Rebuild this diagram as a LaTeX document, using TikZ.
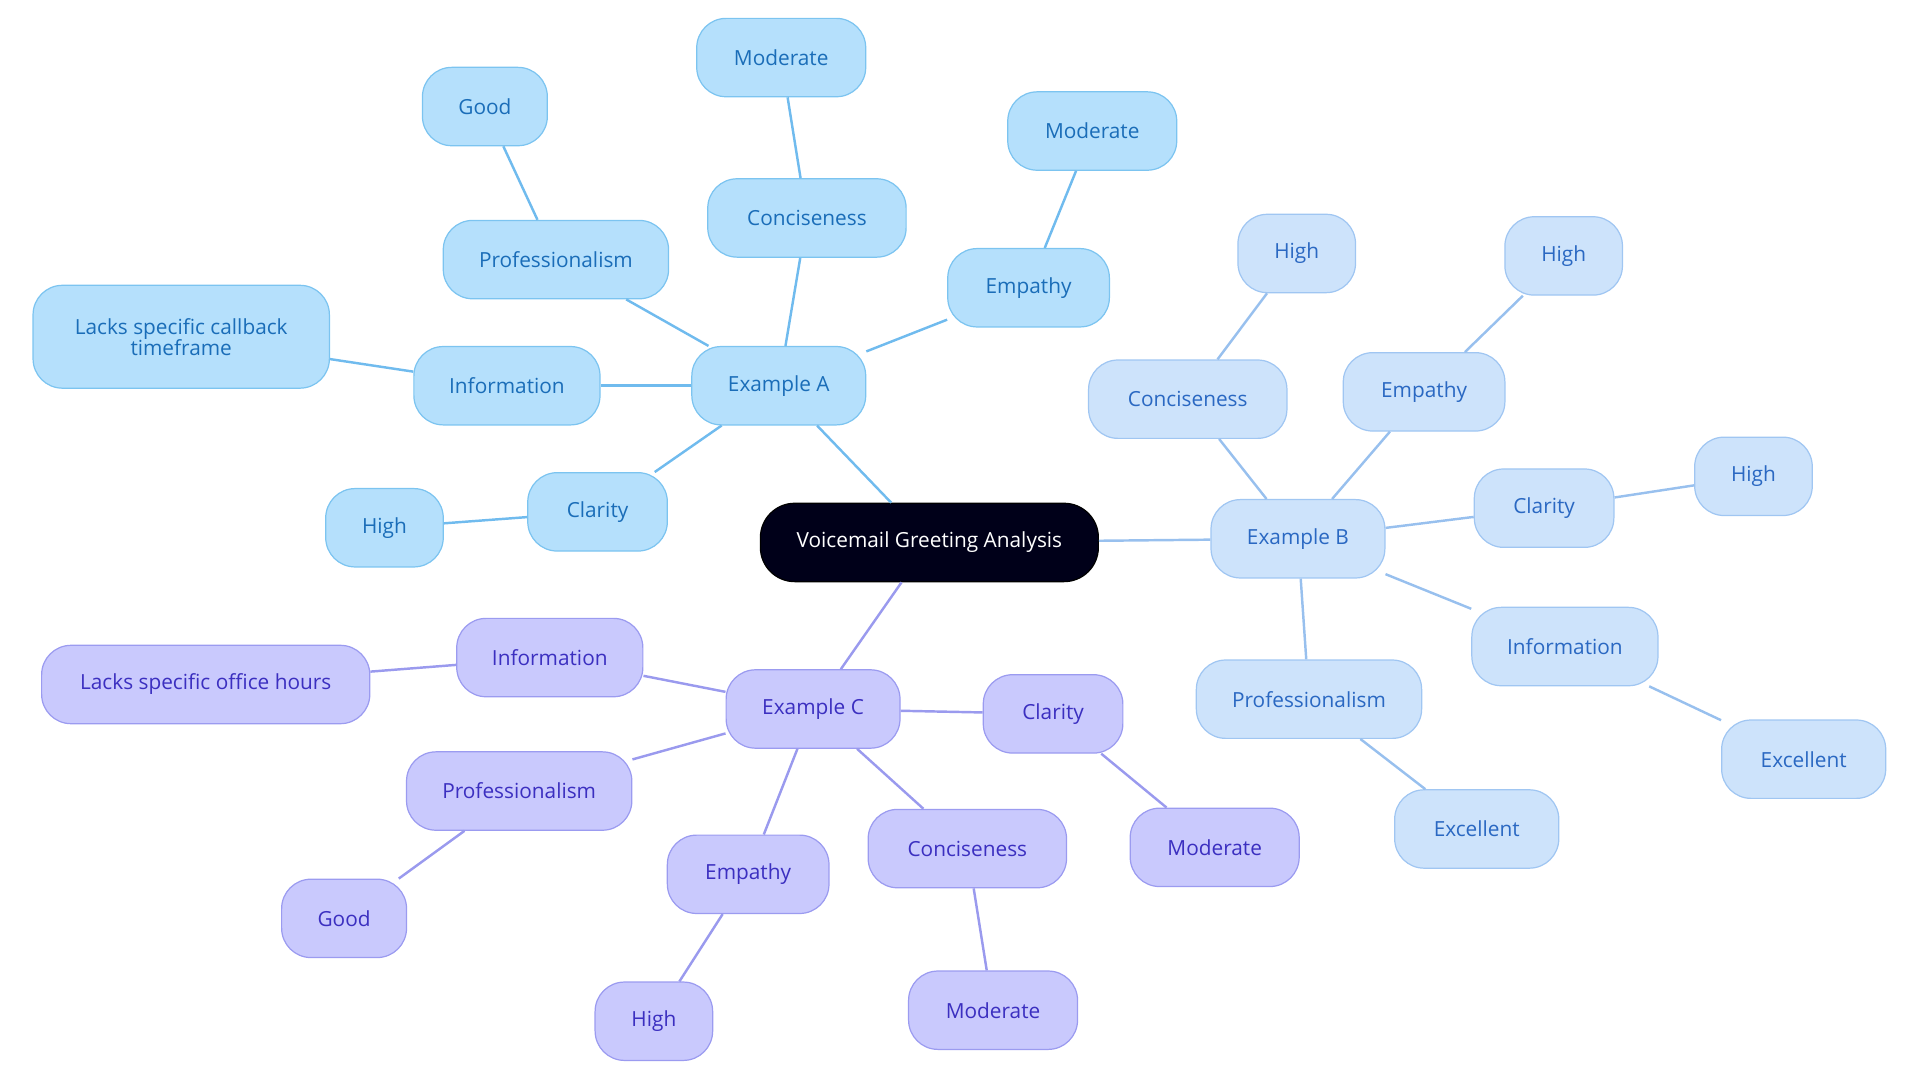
\documentclass[tikz,border=0pt]{standalone}
\usepackage{fontspec}
\setmainfont{Open Sans}
\begin{document}
\definecolor{af}{HTML}{B5E0FC}\definecolor{as}{HTML}{7CC4F0}\definecolor{at}{HTML}{1A6DB8}\definecolor{ae}{HTML}{70BBEE}
\definecolor{bf}{HTML}{CDE3FB}\definecolor{bs}{HTML}{A0C6F2}\definecolor{bt}{HTML}{2A68C2}\definecolor{be}{HTML}{98C0EE}
\definecolor{cf}{HTML}{C9C9FD}\definecolor{cs}{HTML}{9B9BF0}\definecolor{ct}{HTML}{3B2FC0}\definecolor{ce}{HTML}{9A9AEE}
\begin{tikzpicture}[x=1pt,y=-1pt,
 n/.style={draw,rounded corners=24pt,minimum height=64pt,inner sep=0pt,align=center,font=\fontsize{17}{19}\selectfont,line width=1pt},
 A/.style={n,fill=af,draw=as,text=at},
 B/.style={n,fill=bf,draw=bs,text=bt},
 C/.style={n,fill=cf,draw=cs,text=ct},
 ea/.style={draw=ae,line width=2pt},eb/.style={draw=be,line width=2pt},ec/.style={draw=ce,line width=2pt}]
\useasboundingbox (0,0) rectangle (1568,884);
\node[n,fill=black!90!blue,draw=black,text=white,minimum width=276pt,rounded corners=28pt] (r) at (759,443) {Voicemail Greeting Analysis};
\node[A,minimum width=142pt] (a) at (636,315) {Example A};
\node[A,minimum width=184pt] (a1) at (454,212) {Professionalism};
\node[A,minimum width=102pt] (a1g) at (396,87) {Good};
\node[A,minimum width=162pt] (a2) at (659,178) {Conciseness};
\node[A,minimum width=138pt] (a2m) at (638,47) {Moderate};
\node[A,minimum width=132pt] (a3) at (840,235) {Empathy};
\node[A,minimum width=138pt] (a3m) at (892,107) {Moderate};
\node[A,minimum width=152pt] (a4) at (414,315) {Information};
\node[A,minimum width=242pt,minimum height=84pt] (a4l) at (148,275) {Lacks specific callback\\[-2pt]timeframe};
\node[A,minimum width=114pt] (a5) at (488,418) {Clarity};
\node[A,minimum width=96pt] (a5h) at (314,431) {High};
\node[B,minimum width=142pt] (b) at (1060,440) {Example B};
\node[B,minimum width=162pt] (b1) at (970,326) {Conciseness};
\node[B,minimum width=96pt] (b1h) at (1059,207) {High};
\node[B,minimum width=132pt] (b2) at (1163,320) {Empathy};
\node[B,minimum width=96pt] (b2h) at (1277,209) {High};
\node[B,minimum width=114pt] (b3) at (1261,415) {Clarity};
\node[B,minimum width=96pt] (b3h) at (1432,389) {High};
\node[B,minimum width=152pt] (b4) at (1278,528) {Information};
\node[B,minimum width=134pt] (b4e) at (1473,620) {Excellent};
\node[B,minimum width=184pt] (b5) at (1069,571) {Professionalism};
\node[B,minimum width=134pt] (b5e) at (1206,677) {Excellent};
\node[C,minimum width=142pt] (c) at (664,579) {Example C};
\node[C,minimum width=152pt] (c1) at (449,537) {Information};
\node[C,minimum width=268pt] (c1l) at (168,559) {Lacks specific office hours};
\node[C,minimum width=184pt] (c2) at (424,646) {Professionalism};
\node[C,minimum width=102pt] (c2g) at (281,750) {Good};
\node[C,minimum width=132pt] (c3) at (611,714) {Empathy};
\node[C,minimum width=96pt] (c3h) at (534,834) {High};
\node[C,minimum width=162pt] (c4) at (790,693) {Conciseness};
\node[C,minimum width=138pt] (c4m) at (811,825) {Moderate};
\node[C,minimum width=114pt] (c5) at (860,583) {Clarity};
\node[C,minimum width=138pt] (c5m) at (992,692) {Moderate};
\begin{scope}[on background layer/.try]
\end{scope}
\begin{pgfinterruptboundingbox}\end{pgfinterruptboundingbox}
\foreach \u/\v in {r/a,a/a1,a1/a1g,a/a2,a2/a2m,a/a3,a3/a3m,a/a4,a4/a4l,a/a5,a5/a5h}{\path[ea] (\u) -- (\v);}
\foreach \u/\v in {r/b,b/b1,b1/b1h,b/b2,b2/b2h,b/b3,b3/b3h,b/b4,b4/b4e,b/b5,b5/b5e}{\path[eb] (\u) -- (\v);}
\foreach \u/\v in {r/c,c/c1,c1/c1l,c/c2,c2/c2g,c/c3,c3/c3h,c/c4,c4/c4m,c/c5,c5/c5m}{\path[ec] (\u) -- (\v);}
\end{tikzpicture}
\end{document}
